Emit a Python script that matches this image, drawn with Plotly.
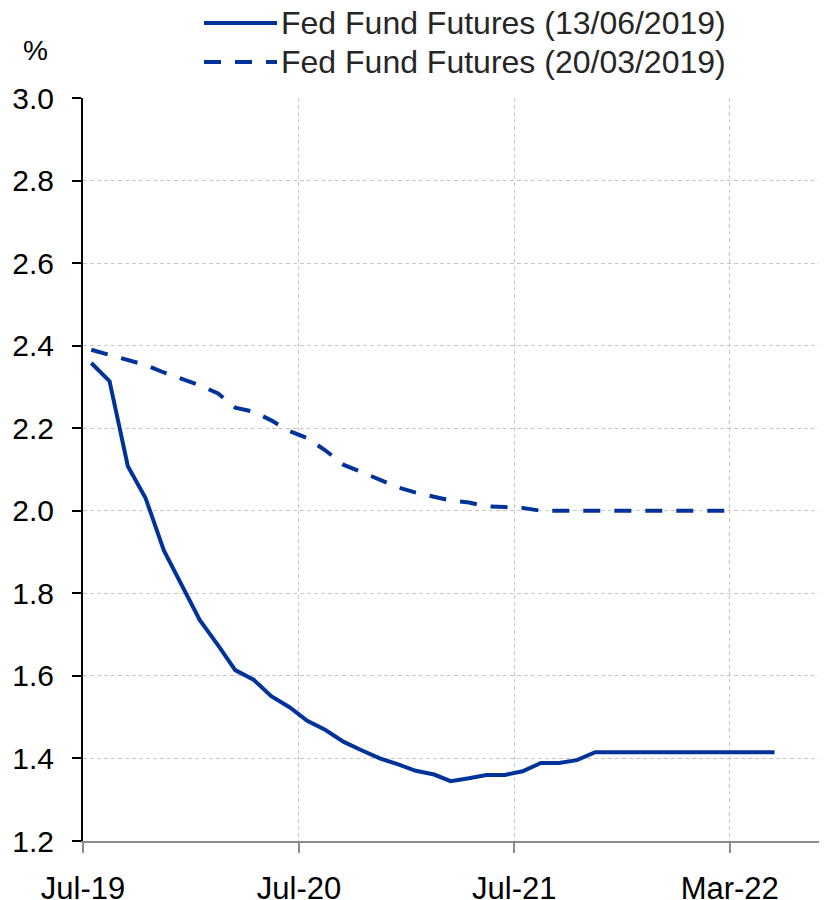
import pandas as pd
import plotly.graph_objects as go

# ---- data ----
solid_name = "Fed Fund Futures (13/06/2019)"
dashed_name = "Fed Fund Futures (20/03/2019)"

solid_values = [2.358, 2.314, 2.108, 2.031, 1.904, 1.819, 1.735, 1.674, 1.614, 1.591,
                1.551, 1.524, 1.491, 1.469, 1.440, 1.420, 1.400, 1.386, 1.370, 1.361,
                1.345, 1.352, 1.360, 1.360, 1.369, 1.389, 1.389, 1.396, 1.415, 1.415,
                1.415, 1.415, 1.415, 1.415, 1.415, 1.415, 1.415, 1.415, 1.415]
dashed_values = [2.390, 2.378, 2.365, 2.353, 2.335, 2.319, 2.304, 2.284, 2.250, 2.240,
                 2.219, 2.193, 2.176, 2.146, 2.111, 2.094, 2.074, 2.057, 2.044, 2.035,
                 2.025, 2.020, 2.011, 2.009, 2.007, 2.000, 2.000, 2.000, 2.000, 2.000,
                 2.000, 2.000, 2.000, 2.000, 2.000, 2.000, 2.000]

solid_dates = pd.date_range("2019-07-01", periods=len(solid_values), freq="MS") + pd.Timedelta(days=14)
dashed_dates = pd.date_range("2019-07-01", periods=len(dashed_values), freq="MS") + pd.Timedelta(days=14)

tick_dates = ["2019-07-01", "2020-07-01", "2021-07-01", "2022-07-01"]
tick_labels = ["Jul-19", "Jul-20", "Jul-21", "Mar-22"]
y_ticks = [1.2, 1.4, 1.6, 1.8, 2.0, 2.2, 2.4, 2.6, 2.8, 3.0]

# ---- style / layout ----
OFF = 8  # page body margin of the browser
W, H = 827 - OFF, 900 - OFF
L, T = 83 - OFF, 98 - OFF
R = W - (820 - OFF)
B = H - (840.7 - OFF)
BLUE = "#003399"
FONT = "Liberation Sans, Arial, sans-serif"
DASH = "17px,14px"

pw = W - L - R
ph = H - T - B


def px_x(x):
    return (x - OFF - L) / pw


def px_y(y):
    return (H - B - (y - OFF)) / ph


fig = go.Figure()
fig.add_trace(go.Scatter(x=solid_dates, y=solid_values, mode="lines", name=solid_name,
                         line=dict(color=BLUE, width=4), showlegend=False))
fig.add_trace(go.Scatter(x=dashed_dates, y=dashed_values, mode="lines", name=dashed_name,
                         line=dict(color=BLUE, width=4, dash=DASH), showlegend=False))

# manual legend
leg = [(solid_name, "solid", 23), (dashed_name, DASH, 62)]
for name, dash, yy in leg:
    fig.add_shape(type="line", xref="paper", yref="paper",
                  x0=px_x(204), x1=px_x(277), y0=px_y(yy), y1=px_y(yy),
                  line=dict(color=BLUE, width=4, dash=dash))
    fig.add_annotation(xref="paper", yref="paper", x=px_x(279), y=px_y(yy),
                       xanchor="left", yanchor="middle", text=name, showarrow=False,
                       font=dict(family=FONT, size=32, color="#262626"))

fig.add_annotation(xref="paper", yref="paper", x=px_x(35), y=px_y(51),
                   xanchor="center", yanchor="middle", text="%", showarrow=False,
                   font=dict(family=FONT, size=28, color="#000000"))

fig.update_layout(
    width=W, height=H,
    margin=dict(l=L, r=R, t=T, b=B, pad=0, autoexpand=False),
    paper_bgcolor="white", plot_bgcolor="white",
    font=dict(family=FONT, size=30, color="#000000"),
    showlegend=False,
)
fig.update_xaxes(
    type="date", range=["2019-07-01", "2022-12-01"],
    tickvals=tick_dates, ticktext=tick_labels,
    showgrid=True, gridcolor="#c8c8c8", gridwidth=1, griddash="4px,3px",
    showline=True, linecolor="#8c8c8c", linewidth=1.5,
    ticks="outside", ticklen=10, tickwidth=1.5, tickcolor="#8c8c8c",
    ticklabelstandoff=9, zeroline=False, automargin=False,
    tickfont=dict(family=FONT, size=31, color="#000000"),
)
fig.update_yaxes(
    range=[1.2, 3.0], tickvals=y_ticks, tickformat=".1f",
    showgrid=True, gridcolor="#c8c8c8", gridwidth=1, griddash="4px,3px",
    showline=True, linecolor="#000000", linewidth=2,
    ticks="outside", ticklen=9, tickwidth=2, tickcolor="#000000",
    ticklabelstandoff=12, zeroline=False, automargin=False,
    tickfont=dict(family=FONT, size=30, color="#000000"),
)

fig.write_html("out.html")
